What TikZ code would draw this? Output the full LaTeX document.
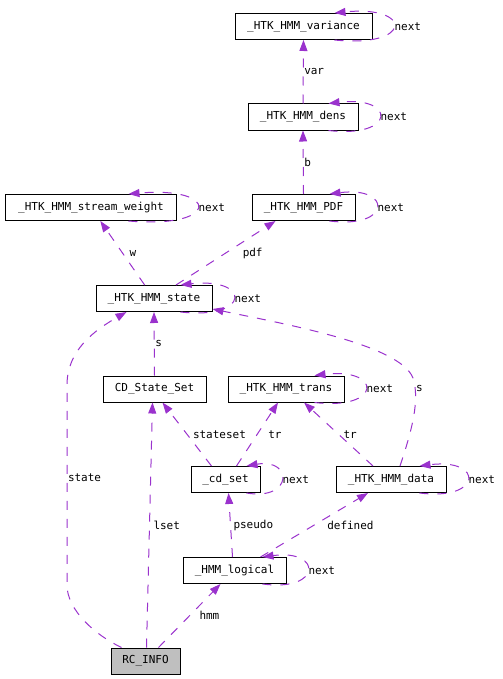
\documentclass[tikz,border=0pt]{standalone}
\usepackage{fontspec}
\newfontfamily\dotfont{DejaVu Sans Mono}
\usepackage{tikz}
\usetikzlibrary{arrows.meta,positioning,calc}
\definecolor{orchid}{HTML}{9A32CD}
\definecolor{focus}{HTML}{BFBFBF}

\begin{document}
\begin{tikzpicture}[x=1bp,y=-1bp,>={Triangle[length=11bp,width=8bp]}]
  \tikzset{
    cls/.style={draw=black, line width=1bp, minimum height=26bp, inner sep=0pt,
      font=\dotfont\fontsize{11bp}{13bp}\selectfont},
    rel/.style={->, draw=orchid, line width=1bp, dash pattern=on 9bp off 9bp},
    lbl/.style={font=\dotfont\fontsize{11bp}{13bp}\selectfont, inner sep=0.5bp, text=black}
  }
  \useasboundingbox (0,0) rectangle (503,679);
  % classes
  \node[cls, minimum width=137bp] (var) at (303.5,26.5) {\_HTK\_HMM\_variance};
  \node[cls, minimum width=110bp] (dens) at (303,117) {\_HTK\_HMM\_dens};
  \node[cls, minimum width=170bp] (sw) at (91,207.5) {\_HTK\_HMM\_stream\_weight};
  \node[cls, minimum width=103bp] (pdf) at (303.5,207.5) {\_HTK\_HMM\_PDF};
  \node[cls, minimum width=116bp] (state) at (154,298.5) {\_HTK\_HMM\_state};
  \node[cls, minimum width=103bp] (css) at (154.5,389) {CD\_State\_Set};
  \node[cls, minimum width=116bp] (trans) at (286,389) {\_HTK\_HMM\_trans};
  \node[cls, minimum width=69bp] (cds) at (225.5,479.5) {\_cd\_set};
  \node[cls, minimum width=110bp] (data) at (391,479.5) {\_HTK\_HMM\_data};
  \node[cls, minimum width=103bp] (logical) at (234.5,570.5) {\_HMM\_logical};
  \node[cls, minimum width=69bp, fill=focus] (rc) at (145.5,661) {RC\_INFO};

  % self references
  \foreach \n/\d in {var/38, dens/30, sw/48, pdf/26, state/32, trans/30, cds/14, data/27, logical/24}{
    \draw[rel] ($(\n.south east)+(-\d,0)$) .. controls +({(21+\d)/0.75},8) and +({(21+\d)/0.75},-8) ..
      ($(\n.north east)+(-\d,0)$) node[lbl, pos=0.5, anchor=west] {next};
  }

  % members
  \draw[rel] (dens.north) -- node[lbl, anchor=west] {var} (var.south);
  \draw[rel] (pdf.north) -- node[lbl, anchor=west] {b} (dens.south);
  \draw[rel] (state) -- node[lbl, right=6bp] {w} (sw);
  \draw[rel] ($(state.north)+(22,0)$) -- node[lbl, right=16bp] {pdf} ($(pdf.south)+(-28,0)$);
  \draw[rel] (css.north) -- node[lbl, anchor=west] {s} (state.south);
  \draw[rel] ($(data.north)+(9,0)$) .. controls (412,430) and (420,400) .. (413,378)
    node[lbl, pos=0.85, anchor=west] {s}
    .. controls (400,345) and (290,325) .. ($(state.south east)+(0,-3)$);
  \draw[rel] ($(rc.north west)+(11,0)$) .. controls (95,635) and (67,610) .. (67,585)
    -- node[lbl, pos=0.535, anchor=west] {state} (67,385)
    .. controls (67,350) and (95,330) .. ($(state.south west)+(31,0)$);
  \draw[rel] ($(rc.north)+(1,0)$) -- node[lbl, right=3bp] {lset} ($(css.south)+(-2,0)$);
  \draw[rel] ($(rc.north)+(13,0)$) -- node[lbl, right=9bp] {hmm} ($(logical.south)+(-14,0)$);
  \draw[rel] ($(cds.north)+(-14,0)$) -- node[lbl, right=5bp] {stateset} ($(css.south)+(8,0)$);
  \draw[rel] ($(cds.north)+(11,0)$) -- node[lbl, right=10bp] {tr} ($(trans.south)+(-8,0)$);
  \draw[rel] ($(data.north)+(-18,0)$) -- node[lbl, right=4bp] {tr} ($(trans.south)+(18,0)$);
  \draw[rel] ($(logical.north)+(-2,0)$) -- node[lbl, right=2bp] {pseudo} ($(cds.south)+(3,0)$);
  \draw[rel] ($(logical.north)+(26,0)$) -- node[lbl, right=12bp] {defined} ($(data.south)+(-23,0)$);
\end{tikzpicture}
\end{document}
